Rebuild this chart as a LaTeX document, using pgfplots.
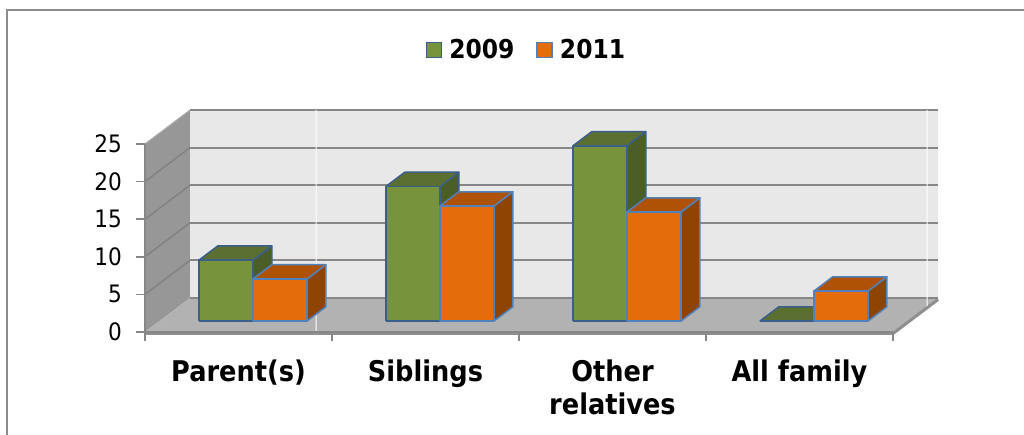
\documentclass[border=0pt]{standalone}
\usepackage{fontspec}
\setmainfont{DejaVu Sans Condensed}
\usepackage{pgfplots}
\pgfplotsset{compat=1.18}
\definecolor{gF}{HTML}{77933C}
\definecolor{gT}{HTML}{5B7030}
\definecolor{gS}{HTML}{4B5E28}
\definecolor{gB}{HTML}{3A5F8B}
\definecolor{oF}{HTML}{E46C0A}
\definecolor{oT}{HTML}{B05206}
\definecolor{oS}{HTML}{8E4504}
\definecolor{oB}{HTML}{4F81BD}
\definecolor{wallS}{HTML}{979797}
\definecolor{wallB}{HTML}{E8E8E8}
\definecolor{floorC}{HTML}{B2B2B2}
\definecolor{gridC}{HTML}{878787}
\definecolor{sgridC}{HTML}{828282}
\definecolor{edgeC}{HTML}{8E8E8E}
\definecolor{frameC}{HTML}{8C8C8C}
% cuboid: #1 left x, #2 right x, #3 value, #4 series prefix
\newcommand{\cuboid}[4]{%
  \addplot3[fill=#4S, draw=#4B, line width=1.5pt, line join=round] coordinates {(#2,0.32,0) (#2,0.74,0) (#2,0.74,#3) (#2,0.32,#3) (#2,0.32,0)};
  \addplot3[fill=#4T, draw=#4B, line width=1.5pt, line join=round] coordinates {(#1,0.32,#3) (#2,0.32,#3) (#2,0.74,#3) (#1,0.74,#3) (#1,0.32,#3)};
  \addplot3[fill=#4F, draw=#4B, line width=1.5pt, line join=round] coordinates {(#1,0.32,0) (#2,0.32,0) (#2,0.32,#3) (#1,0.32,#3) (#1,0.32,0)};
}
\begin{document}
\begin{tikzpicture}
\path[use as bounding box] (0pt,0pt) rectangle (1024pt,435pt);
\draw[frameC, line width=2pt] (7pt,0pt) -- (7pt,425pt) -- (1024pt,425pt);
% 3D part: walls, floor, bars
\begin{axis}[at={(238.5pt,103pt)}, anchor=origin,
  x={(187pt,0pt)}, y={(45pt,34pt)}, z={(0pt,7.52pt)},
  xmin=-0.5, xmax=3.5, ymin=0, ymax=1, zmin=0, zmax=25,
  hide axis, clip=false]
  % side wall
  \fill[wallS] (axis cs:-0.5,0,0) -- (axis cs:-0.5,1,0) -- (axis cs:-0.5,1,25) -- (axis cs:-0.5,0,25) -- cycle;
  \pgfplotsinvokeforeach{5,10,15,20}{\draw[sgridC, line width=1.5pt] (axis cs:-0.5,0,#1) -- (axis cs:-0.5,1,#1);}
  % back wall
  \fill[wallB] (axis cs:-0.5,1,0) -- (axis cs:3.5,1,0) -- (axis cs:3.5,1,25) -- (axis cs:-0.5,1,25) -- cycle;
  \pgfplotsinvokeforeach{5,10,15,20,25}{\draw[gridC, line width=2pt] (axis cs:-0.5,1,#1) -- (axis cs:3.5,1,#1);}
  \draw[gridC!70, line width=1pt] (axis cs:-0.5,0,25) -- (axis cs:-0.5,1,25);
  % floor
  \fill[floorC] (axis cs:-0.5,0,0) -- (axis cs:3.5,0,0) -- (axis cs:3.5,1,0) -- (axis cs:-0.5,1,0) -- cycle;
  \draw[gridC, line width=1.2pt] (axis cs:-0.5,1,0) -- (axis cs:3.5,1,0);
  \draw[edgeC, line width=3pt] ([yshift=-1.5pt]axis cs:-0.5,0,0) -- ([yshift=-1.5pt]axis cs:3.5,0,0) -- ([yshift=-1.5pt]axis cs:3.5,1,0);
  % light seams
  \draw[white, line width=1pt] (axis cs:0.174,1,25) -- (axis cs:0.174,1,0) -- (axis cs:0.415,0,0);
  \draw[white, line width=1pt] (axis cs:3.442,1,25) -- (axis cs:3.442,1,0) -- (axis cs:3.5,0.759,0);
  % bars: 2009 (green), 2011 (orange)
  \cuboid{-0.289}{0}{8.1}{g}
  \cuboid{0}{0.289}{5.6}{o}
  \cuboid{0.711}{1}{17.9}{g}
  \cuboid{1}{1.289}{15.3}{o}
  \cuboid{1.711}{2}{23.3}{g}
  \cuboid{2}{2.289}{14.5}{o}
  \cuboid{2.711}{3}{0}{g}
  \cuboid{3}{3.289}{4.0}{o}
\end{axis}
% front plane: axes, ticks, labels, legend
\begin{axis}[at={(238.5pt,103pt)}, anchor=origin,
  x=187pt, y=7.52pt,
  xmin=-0.5, xmax=3.5, ymin=0, ymax=25,
  clip=false,
  axis lines*=left,
  axis line style={draw=gridC, line width=1.5pt},
  tick align=outside,
  major tick length=9pt, minor tick length=9pt,
  tick style={draw=gridC, line width=1.5pt},
  major x tick style={draw=none},
  ytick={0,5,10,15,20,25},
  xtick={0,1,2,3},
  minor xtick={-0.5,0.5,1.5,2.5,3.5},
  xticklabels={Parent(s),Siblings,{Other\\relatives},All family},
  /pgf/number format/assume math mode=true,
  yticklabel style={font=\fontsize{24}{28}\selectfont, anchor=east, inner sep=0pt, xshift=-14pt},
  xticklabel style={font=\bfseries\fontsize{28.5}{32.5}\selectfont, align=center, anchor=north, inner sep=0pt, yshift=-19pt},
  legend columns=2,
  legend style={draw=none, fill=none, at={(axis description cs:0.510,1.5)}, anchor=center,
    font=\bfseries\fontsize{26}{30}\selectfont,
    /tikz/every odd column/.append style={column sep=5pt},
    /tikz/every even column/.append style={column sep=20pt}},
  legend image code/.code={\draw[#1, line width=1.5pt] (0pt,-7.5pt) rectangle (15pt,7.5pt);},
]
  \addlegendimage{fill=gF, draw=gB}
  \addlegendentry{2009}
  \addlegendimage{fill=oF, draw=oB}
  \addlegendentry{2011}
\end{axis}
\end{tikzpicture}
\end{document}
